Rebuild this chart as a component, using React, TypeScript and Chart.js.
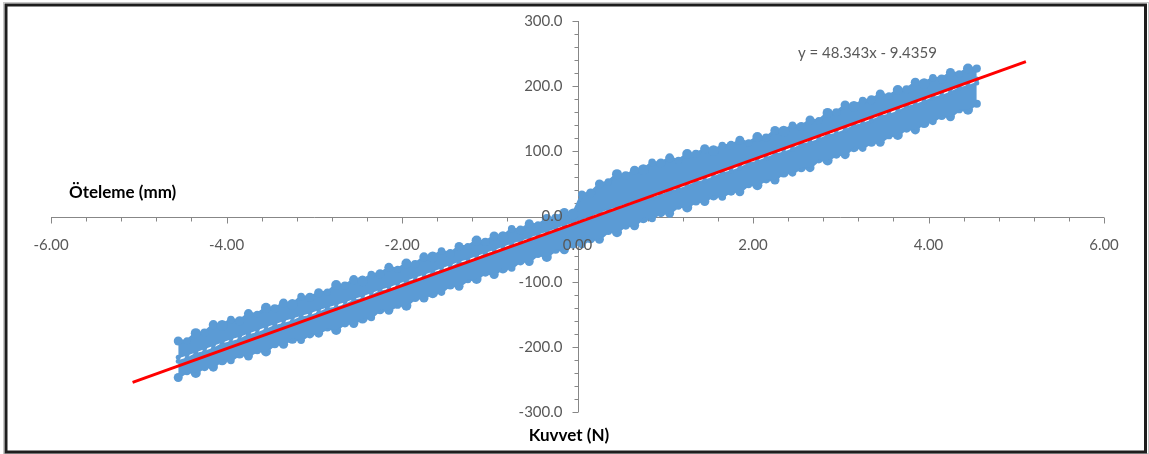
import React, { useEffect, useRef } from "react";
import { Chart, registerables } from "chart.js";

Chart.register(...registerables);

// Kuvvet (N) positions where the loop edges were read
const forceX = [
  -4.55, -4.45, -4.35, -4.25, -4.15, -4.05, -3.95, -3.85, -3.75, -3.65,
  -3.55, -3.45, -3.35, -3.25, -3.15, -3.05, -2.95, -2.85, -2.75, -2.65,
  -2.55, -2.45, -2.35, -2.25, -2.15, -2.05, -1.95, -1.85, -1.75, -1.65,
  -1.55, -1.45, -1.35, -1.25, -1.15, -1.05, -0.95, -0.85, -0.75, -0.65,
  -0.55, -0.45, -0.35, -0.25, -0.15, -0.05, 0.05, 0.15, 0.25, 0.35,
  0.45, 0.55, 0.65, 0.75, 0.85, 0.95, 1.05, 1.15, 1.25, 1.35,
  1.45, 1.55, 1.65, 1.75, 1.85, 1.95, 2.05, 2.15, 2.25, 2.35,
  2.45, 2.55, 2.65, 2.75, 2.85, 2.95, 3.05, 3.15, 3.25, 3.35,
  3.45, 3.55, 3.65, 3.75, 3.85, 3.95, 4.05, 4.15, 4.25, 4.35,
  4.45, 4.55,
];

// Öteleme (mm) – upper branch, outer (top) edge
const upperOuter = [
  -191, -191, -179, -178, -166, -167, -158, -160, -149, -150,
  -140, -141, -133, -135, -123, -124, -117, -116, -105, -106,
  -97, -99, -89, -88, -78, -81, -72, -73, -62, -62,
  -53, -57, -46, -46, -37, -39, -30, -31, -19, -21,
  -11, -13, -4, -2, 6, 4, 34, 36, 50, 53,
  65, 63, 71, 72, 83, 82, 90, 86, 96, 96,
  104, 101, 109, 109, 117, 113, 122, 121, 132, 131,
  140, 138, 148, 147, 159, 160, 171, 169, 178, 179,
  188, 185, 194, 195, 206, 204, 213, 211, 221, 219,
  227, 227,
];

// Öteleme (mm) – upper branch, inner edge (along the gap)
const upperInner = [
  -216, -212, -207, -202, -197, -192, -187, -183, -178, -173,
  -168, -164, -159, -155, -151, -147, -142, -138, -134, -130,
  -125, -121, -116, -111, -107, -102, -97, -92, -88, -83,
  -78, -73, -68, -64, -59, -54, -50, -45, -40, -36,
  -31, -26, -22, -17, -12, -8, -3, 2, 7, 12,
  16, 21, 25, 29, 34, 38, 42, 47, 52, 56,
  61, 66, 70, 75, 80, 85, 90, 95, 99, 104,
  109, 114, 119, 124, 128, 133, 138, 143, 148, 153,
  157, 162, 167, 172, 177, 182, 186, 191, 196, 201,
  206, 211,
];

// Öteleme (mm) – lower branch, inner edge (along the gap)
const lowerInner = [
  -222, -218, -211, -208, -203, -196, -193, -189, -182, -179,
  -174, -168, -165, -161, -155, -153, -148, -142, -140, -136,
  -129, -127, -122, -115, -113, -108, -101, -98, -94, -87,
  -84, -79, -72, -70, -65, -58, -56, -51, -44, -42,
  -37, -30, -28, -23, -16, -14, -9, -2, 1, 6,
  12, 15, 19, 25, 28, 32, 38, 41, 46, 52,
  55, 60, 66, 69, 74, 81, 84, 89, 95, 98,
  103, 110, 113, 118, 124, 127, 132, 139, 142, 147,
  153, 156, 161, 168, 171, 176, 182, 185, 190, 197,
  200, 205,
];

// Öteleme (mm) – lower branch, outer (bottom) edge
const lowerOuter = [
  -247, -238, -240, -231, -231, -220, -221, -211, -214, -206,
  -207, -196, -196, -187, -190, -180, -179, -171, -174, -164,
  -164, -156, -155, -143, -144, -136, -137, -125, -125, -117,
  -116, -105, -107, -97, -96, -86, -89, -79, -79, -68,
  -69, -58, -62, -51, -51, -41, -43, -34, -35, -23,
  -24, -14, -14, -2, -3, 6, 5, 16, 14, 23,
  23, 33, 30, 39, 38, 49, 48, 57, 56, 68,
  67, 75, 75, 87, 86, 95, 95, 107, 105, 114,
  114, 124, 125, 135, 133, 144, 146, 155, 153, 164,
  164, 173,
];

// linear trendline end points
const trendX = [-5.07, 5.11];
const trendY = [-254.5, 237.6];

const xTickValues = [-6, -4, -2, 0, 2, 4, 6];
const xTickLabels = ["-6.00", "-4.00", "-2.00", "0.00", "2.00", "4.00", "6.00"];
const yTickValues = [-300, -200, -100, 0, 100, 200, 300];
const yTickLabels = ["-300.0", "-200.0", "-100.0", "0.0", "100.0", "200.0", "300.0"];

const equationText = "y = 48.343x - 9.4359";
const yTitle = "Öteleme (mm)";
const xTitle = "Kuvvet (N)";

const BLUE = "#5B9BD5";
const AXIS = "#878787";
const LABEL = "#595959";
const OUTER_DOTS = [4.5, 3.6, 5, 4.1, 4.6, 5.4, 3.8, 4.6];

const toPoints = (ys: number[]) => forceX.map((x, i) => ({ x, y: ys[i] }));

export default function App() {
  const ref = useRef<HTMLCanvasElement>(null);

  useEffect(() => {
    const canvas = ref.current;
    if (!canvas) return;

    const excelAxes = {
      id: "excelAxes",
      beforeDraw(chart: any) {
        const ctx = chart.ctx;
        ctx.save();
        ctx.fillStyle = "#ffffff";
        ctx.fillRect(0, 0, chart.width, chart.height);
        ctx.strokeStyle = "#c8c8c8";
        ctx.lineWidth = 1;
        ctx.strokeRect(3.5, 2.5, 1145, 451);
        ctx.strokeStyle = "#1e1e1e";
        ctx.lineWidth = 3;
        ctx.strokeRect(6, 5, 1139.5, 447);
        ctx.restore();
      },
      beforeDatasetsDraw(chart: any) {
        const ctx = chart.ctx;
        const xs = chart.scales.x;
        const ys = chart.scales.y;
        const x0 = Math.round(xs.getPixelForValue(0)) + 0.5;
        const y0 = Math.round(ys.getPixelForValue(0)) + 0.5;
        ctx.save();
        ctx.strokeStyle = AXIS;
        ctx.lineWidth = 1;
        ctx.beginPath();
        ctx.moveTo(xs.left, y0);
        ctx.lineTo(xs.right, y0);
        ctx.moveTo(x0, ys.top);
        ctx.lineTo(x0, ys.bottom);
        for (let i = -15; i <= 15; i++) {
          const px = Math.round(xs.getPixelForValue(i * 0.4)) + 0.5;
          const major = i % 5 === 0;
          ctx.moveTo(px, y0);
          ctx.lineTo(px, y0 + (major ? 6 : 4));
        }
        for (let i = -15; i <= 15; i++) {
          const py = Math.round(ys.getPixelForValue(i * 20)) + 0.5;
          const major = i % 5 === 0;
          ctx.moveTo(x0 - (major ? 6 : 4), py);
          ctx.lineTo(x0, py);
        }
        ctx.stroke();
        ctx.restore();
      },
      afterDatasetsDraw(chart: any) {
        const ctx = chart.ctx;
        const xs = chart.scales.x;
        const ys = chart.scales.y;
        const x0 = xs.getPixelForValue(0);
        const y0 = ys.getPixelForValue(0);
        ctx.save();
        ctx.fillStyle = LABEL;
        ctx.font = "15px Lato";
        ctx.textBaseline = "middle";
        ctx.textAlign = "center";
        xTickValues.forEach((v, i) => {
          ctx.fillText(xTickLabels[i], xs.getPixelForValue(v), y0 + 29);
        });
        ctx.textAlign = "right";
        yTickValues.forEach((v, i) => {
          ctx.fillText(yTickLabels[i], x0 - 15, ys.getPixelForValue(v));
        });
        ctx.textAlign = "left";
        ctx.fillText(equationText, 798, 53);
        ctx.fillStyle = "#000000";
        ctx.font = "bold 17px Lato";
        ctx.fillText(yTitle, 69, 193);
        ctx.textAlign = "center";
        ctx.fillText(xTitle, 569, 436);
        ctx.restore();
      },
    };

    const edge = (label: string, ys: number[], fill: any, outer: boolean) => ({
      label,
      data: toPoints(ys),
      showLine: true,
      borderColor: BLUE,
      backgroundColor: BLUE,
      borderWidth: outer ? 3 : 2,
      borderJoinStyle: "round",
      pointRadius: outer ? (c: any) => OUTER_DOTS[c.dataIndex % OUTER_DOTS.length] : 2.5,
      pointBorderWidth: 0,
      pointBackgroundColor: BLUE,
      fill,
      order: 1,
    });

    const chart = new Chart(canvas, {
      type: "scatter",
      data: {
        datasets: [
          {
            label: "Doğrusal",
            data: trendX.map((x, i) => ({ x, y: trendY[i] })),
            showLine: true,
            borderColor: "#FF0000",
            borderWidth: 3,
            pointRadius: 0,
            fill: false,
            order: 0,
          },
          edge("Üst dış", upperOuter, "+1", true),
          edge("Üst iç", upperInner, false, false),
          edge("Alt iç", lowerInner, "+1", false),
          edge("Alt dış", lowerOuter, false, true),
        ] as any,
      },
      options: {
        animation: false,
        responsive: false,
        events: [],
        layout: { padding: { left: 51, right: 45, top: 21, bottom: 42 } },
        scales: {
          x: { type: "linear", min: -6, max: 6, display: false },
          y: { type: "linear", min: -300, max: 300, display: false },
        },
        plugins: { legend: { display: false }, tooltip: { enabled: false } },
      },
      plugins: [excelAxes],
    });

    return () => chart.destroy();
  }, []);

  return (
    <div style={{ position: "absolute", left: 0, top: 0, width: 1149, height: 454 }}>
      <canvas ref={ref} width={1149} height={454} style={{ display: "block" }} />
    </div>
  );
}
